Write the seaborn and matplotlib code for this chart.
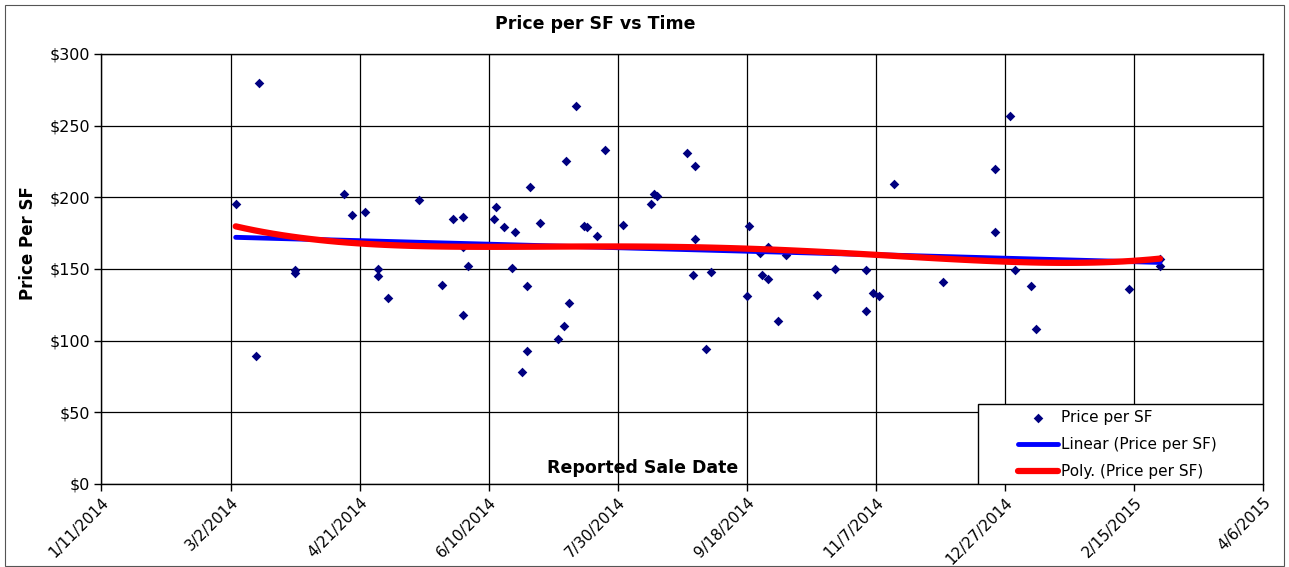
"""Price per SF vs Time scatter with linear and polynomial trend lines."""
import matplotlib
matplotlib.use('Agg')
import matplotlib.pyplot as plt
from matplotlib.patches import Rectangle
import seaborn as sns
import pandas as pd

# values
sale_dates = [
    '2014-03-04', '2014-03-13', '2014-03-12', '2014-03-27', '2014-03-27',
    '2014-04-15', '2014-04-18', '2014-04-23', '2014-04-28', '2014-04-28',
    '2014-05-02', '2014-05-14', '2014-05-23', '2014-05-27', '2014-05-31',
    '2014-05-31', '2014-05-31', '2014-06-02', '2014-06-12', '2014-06-13',
    '2014-06-16', '2014-06-20', '2014-06-19', '2014-06-25', '2014-06-26',
    '2014-06-25', '2014-06-23', '2014-06-30', '2014-07-07', '2014-07-09',
    '2014-07-10', '2014-07-11', '2014-07-14', '2014-07-17', '2014-07-18',
    '2014-07-22', '2014-07-25', '2014-08-01', '2014-08-12', '2014-08-13',
    '2014-08-14', '2014-08-26', '2014-08-28', '2014-08-29', '2014-08-29',
    '2014-09-02', '2014-09-04', '2014-09-18', '2014-09-19', '2014-09-23',
    '2014-09-24', '2014-09-26', '2014-09-26', '2014-09-30', '2014-10-03',
    '2014-10-15', '2014-10-22', '2014-11-03', '2014-11-03', '2014-11-06',
    '2014-11-08', '2014-11-14', '2014-12-03', '2014-12-23', '2014-12-23',
    '2014-12-29', '2014-12-31', '2015-01-06', '2015-01-08', '2015-02-13',
    '2015-02-25', '2015-02-25',
]
price_per_sf = [
    195, 280, 89, 149, 147,
    202, 188, 190, 150, 145,
    130, 198, 139, 185, 186,
    165, 118, 152, 185, 193,
    179, 176, 151, 138, 207,
    93, 78, 182, 101, 110,
    225, 126, 264, 180, 179,
    173, 233, 181, 195, 202,
    201, 231, 146, 222, 171,
    94, 148, 131, 180, 161,
    146, 165, 143, 114, 160,
    132, 150, 149, 121, 133,
    131, 209, 141, 220, 176,
    257, 149, 138, 108, 136,
    152, 157,
]
x_tick_labels = ['1/11/2014', '3/2/2014', '4/21/2014', '6/10/2014', '7/30/2014',
                 '9/18/2014', '11/7/2014', '12/27/2014', '2/15/2015', '4/6/2015']
y_ticks = [0, 50, 100, 150, 200, 250, 300]
y_tick_labels = ['$0', '$50', '$100', '$150', '$200', '$250', '$300']

start = pd.to_datetime(x_tick_labels[0], format='%m/%d/%Y')
df = pd.DataFrame({'SaleDate': pd.to_datetime(sale_dates), 'PricePerSF': price_per_sf})
df['Day'] = (df['SaleDate'] - start).dt.days
tick_days = [(pd.to_datetime(t, format='%m/%d/%Y') - start).days for t in x_tick_labels]

sns.set_style('white')
plt.rcParams['font.family'] = ['DejaVu Sans']
plt.rcParams['text.color'] = 'black'
plt.rcParams['xtick.color'] = 'black'
plt.rcParams['ytick.color'] = 'black'

fig = plt.figure(figsize=(12.89, 5.67), dpi=100)
ax = fig.add_axes([0.0787, 0.1464, 0.9013, 0.7584])

sns.scatterplot(data=df, x='Day', y='PricePerSF', marker='D', s=24, color='#000080',
                edgecolor='#000080', linewidth=0, label='Price per SF', zorder=3, ax=ax)
sns.regplot(data=df, x='Day', y='PricePerSF', order=1, scatter=False, ci=None, ax=ax,
            label='Linear (Price per SF)',
            line_kws=dict(color='#0000FF', lw=3.5, zorder=4, solid_capstyle='round'))
sns.regplot(data=df, x='Day', y='PricePerSF', order=4, scatter=False, ci=None, ax=ax,
            label='Poly. (Price per SF)',
            line_kws=dict(color='#FF0000', lw=4.5, zorder=4, solid_capstyle='round'))

ax.set_xlim(tick_days[0], tick_days[-1])
ax.set_ylim(y_ticks[0], y_ticks[-1])
ax.set_xticks(tick_days)
ax.set_xticklabels(x_tick_labels, rotation=45, ha='right', va='top',
                   rotation_mode='anchor', fontsize=11)
ax.set_yticks(y_ticks)
ax.set_yticklabels(y_tick_labels, fontsize=11.5)
ax.tick_params(bottom=True, left=True, direction='out', length=5, width=1,
               color='black', pad=3)
ax.grid(True, color='black', lw=0.9)
ax.set_axisbelow(True)
for sp in ax.spines.values():
    sp.set_color('black')
    sp.set_linewidth(1)
ax.set_xlabel('')
ax.set_ylabel('')

ax.text(0.4654, 0.037, 'Reported Sale Date', transform=ax.transAxes, ha='center',
        va='center', fontsize=12.5, fontweight='bold', zorder=5)

# legend box sits in the lower right corner of the plot
ax.add_patch(Rectangle((0.7546, 0), 0.2454, 0.186, transform=ax.transAxes,
                       facecolor='white', edgecolor='black', lw=1, zorder=5))
ax.legend(loc='upper left', bbox_to_anchor=(0.789, 0.171), frameon=False,
          fontsize=11, borderpad=0, borderaxespad=0, handlelength=2.6,
          handletextpad=0.2, labelspacing=0.78).set_zorder(6)

fig.text(0.4616, 0.9577, 'Price per SF vs Time', ha='center', va='center',
         fontsize=12.5, fontweight='bold')
fig.text(28 / 1289, 1 - 243 / 567, 'Price Per SF', rotation=90, ha='center',
         va='center', fontsize=12, fontweight='bold')
fig.patches.append(Rectangle((5 / 1289, 1 / 567), 1279 / 1289, 561 / 567,
                             transform=fig.transFigure, fill=False,
                             edgecolor='#555555', lw=0.8))

fig.savefig('out.png', dpi=100)
plt.close(fig)
